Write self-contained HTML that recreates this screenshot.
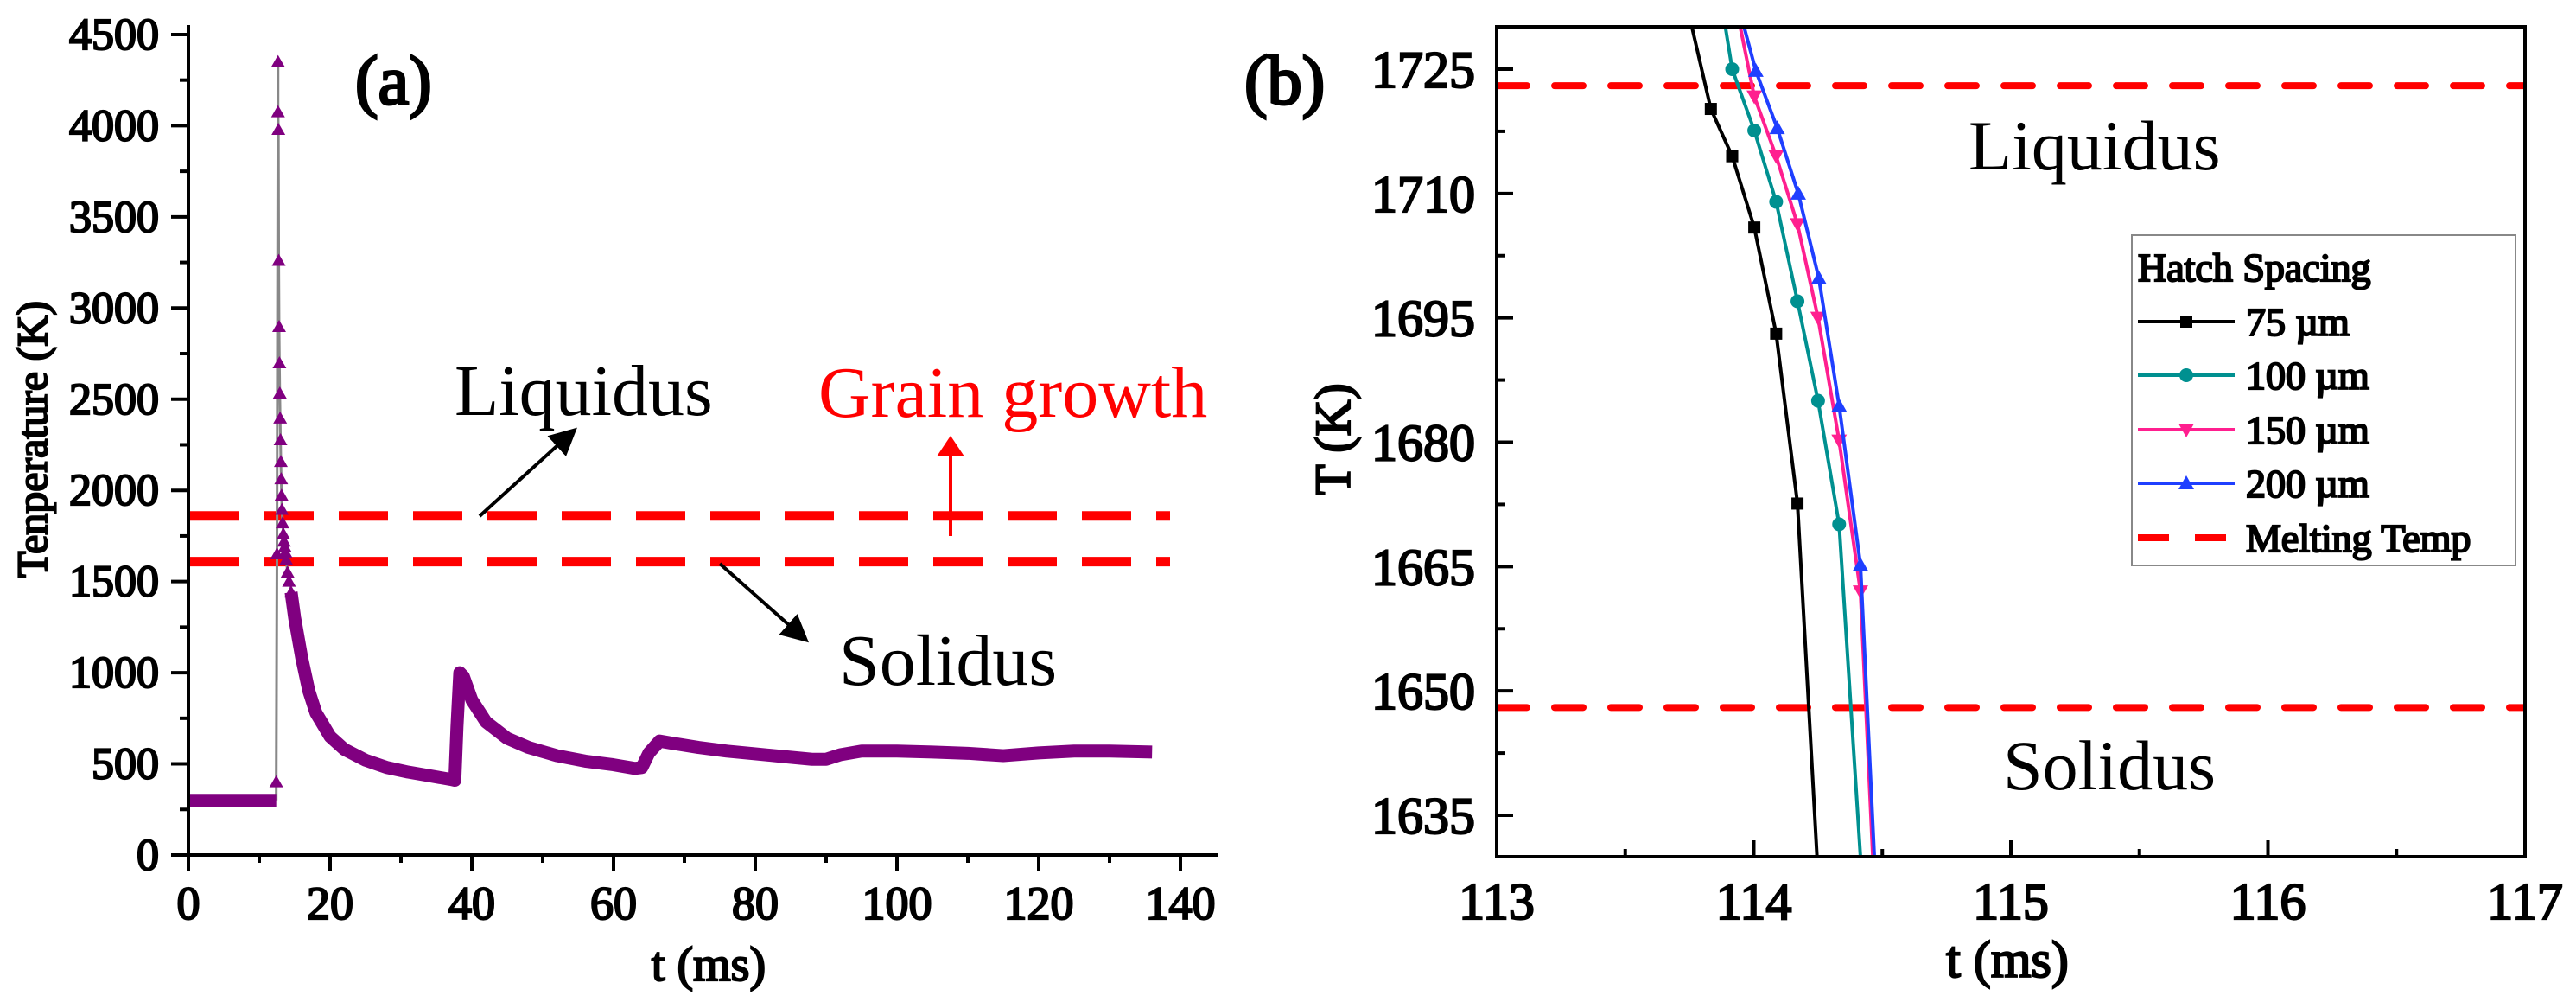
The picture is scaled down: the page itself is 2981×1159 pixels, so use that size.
<!DOCTYPE html>
<html><head><meta charset="utf-8">
<style>
html,body{margin:0;padding:0;background:#fff;}
svg, svg text{font-family:"Liberation Serif","DejaVu Serif","Times New Roman",serif !important;}
.b{font-weight:normal;stroke:#000;stroke-width:2.2px;paint-order:stroke;}
</style></head>
<body>
<svg id="fig" width="2981" height="1154" viewBox="0 0 2981 1154" xmlns="http://www.w3.org/2000/svg" font-family="Liberation Serif, DejaVu Serif, serif">
<g id="pa"></g>
<g id="pb"></g>
<text class="b" x="411" y="120" font-size="80" style="stroke-width:3px">(a)</text>
<text class="b" x="1440" y="120" font-size="80" style="stroke-width:3px">(b)</text>
<text x="526" y="480" font-size="84">Liquidus</text>
<text x="947" y="482" font-size="84" fill="#ff0000">Grain growth</text>
<text x="971" y="792" font-size="84">Solidus</text>
<text x="2278" y="196" font-size="82">Liquidus</text>
<text x="2318" y="913" font-size="82">Solidus</text>
<text class="b" x="0" y="0" font-size="50" text-anchor="middle" transform="translate(54,508) rotate(-90)">Tenperature (K)</text>
<text class="b" x="820" y="1134" font-size="56" text-anchor="middle">t (ms)</text>
<text class="b" x="0" y="0" font-size="58" text-anchor="middle" transform="translate(1562,508) rotate(-90)">T (K)</text>
<text class="b" x="2323" y="1130" font-size="60" text-anchor="middle">t (ms)</text>
<defs><marker id="ah" markerWidth="8" markerHeight="8" refX="6" refY="4" orient="auto" markerUnits="strokeWidth"><path d="M0,0 L8,4 L0,8 z" fill="#000"/></marker>
<marker id="ahr" markerWidth="6" markerHeight="8" refX="5" refY="4" orient="auto" markerUnits="strokeWidth"><path d="M0,0 L6,4 L0,8 z" fill="#ff0000"/></marker></defs>
<line x1="555" y1="597" x2="662" y2="500" stroke="#000" stroke-width="4" marker-end="url(#ah)"/>
<line x1="833" y1="652" x2="930" y2="738" stroke="#000" stroke-width="4" marker-end="url(#ah)"/>
<line x1="1100" y1="620" x2="1100" y2="508" stroke="#ff0000" stroke-width="4" marker-end="url(#ahr)"/>
</svg>
<script>
// ---------- Panel (a) data ----------
const aXTicks = [0,20,40,60,80,100,120,140];
const aYTicks = [0,500,1000,1500,2000,2500,3000,3500,4000,4500];
const aFlatTime = [0,12.4];
const aFlatTemp = [300,300];
const aSpikeTime = [12.4,12.5,12.65,12.65,12.7,12.75,12.8,12.85,12.9,12.95,13.0,13.05,13.1,13.15,13.2,13.3,13.4,13.5,13.6,13.7,13.8,14.0,14.2,14.5];
const aSpikeTemp = [400,1650,4350,4075,3978,3260,2897,2698,2532,2395,2276,2157,2062,1972,1894,1820,1760,1720,1690,1660,1620,1550,1500,1441];
const aMainTime = [14.5,15,16,17,18,20,22,25,28,31,34,37,37.6,37.9,38.3,38.8,40,42,45,48,52,56,60,63,64,65,66.5,68,72,76,80,84,88,90,92,95,100,105,110,115,120,125,130,136];
const aMainTemp = [1441,1300,1080,900,780,650,580,520,480,455,435,415,410,700,1000,980,850,730,640,590,545,515,495,475,480,560,625,615,590,570,555,540,525,525,550,570,570,565,558,545,560,570,570,565];
const aLiquidus = 1860, aSolidus = 1609;
// ---------- Panel (b) data ----------
const bXTicks = [113,114,115,116,117];
const bYTicks = [1635,1650,1665,1680,1695,1710,1725];
const bLiquidus = 1723, bSolidus = 1648;
const s75t = [113.76,113.833,113.916,114.002,114.087,114.170,114.246];
const s75v = [1730,1720.2,1714.5,1705.9,1693.1,1672.6,1630];
const s100t = [113.89,113.916,114.002,114.087,114.170,114.250,114.332,114.415];
const s100v = [1730,1725,1717.6,1709.0,1697.0,1685.0,1670.1,1630];
const s150t = [113.948,114.002,114.087,114.170,114.250,114.332,114.415,114.463];
const s150v = [1730,1721.7,1714.5,1706.3,1695.0,1680.2,1662.0,1630];
const s200t = [113.963,114.008,114.091,114.173,114.253,114.332,114.415,114.469];
const s200v = [1730,1724.8,1717.9,1710.0,1699.8,1684.4,1665.2,1630];
const legendLabels = ["75 µm","100 µm","150 µm","200 µm","Melting Temp"];

const NS="http://www.w3.org/2000/svg";
function mk(parent,tag,attrs){const e=document.createElementNS(NS,tag);for(const k in attrs)e.setAttribute(k,attrs[k]);parent.appendChild(e);return e;}

const ax = t => 218 + t*8.2;
const ay = v => 989 - v*0.2109;
const pa=document.getElementById('pa');
[aLiquidus,aSolidus].forEach((v,i)=>{
  const l=mk(pa,'line',{x1:220,x2:1354,y1:ay(v),y2:ay(v),stroke:'#ff0000','stroke-width':11,'stroke-dasharray':'57 29'});
  
  
});
let d='M'+ax(aFlatTime[1])+','+ay(aFlatTemp[1]);
aSpikeTime.forEach((t,i)=>{d+=' L'+ax(t)+','+ay(aSpikeTemp[i]);});
const sp=mk(pa,'path',{d:d,fill:'none',stroke:'#888','stroke-width':3});


let fd='M'+aFlatTime.map((t,i)=>ax(t)+','+ay(aFlatTemp[i])).join(' L');
const fl=mk(pa,'path',{d:fd,fill:'none',stroke:'#800080','stroke-width':15});


let md='M'+aMainTime.map((t,i)=>ax(t)+','+ay(aMainTemp[i])).join(' L');
const ml=mk(pa,'path',{d:md,fill:'none',stroke:'#800080','stroke-width':15,'stroke-linejoin':'round'});


aSpikeTime.forEach((t,i)=>{
  const x=ax(t),y=ay(aSpikeTemp[i]);
  const m=mk(pa,'path',{d:`M${x-8},${y+6} L${x+8},${y+6} L${x},${y-8} z`,fill:'#800080'});
  
  
});
const axl=mk(pa,'path',{d:'M218,29 L218,989 L1410,989',fill:'none',stroke:'#000','stroke-width':4});


for(let v=0;v<=4500;v+=250){const maj=v%500===0;mk(pa,'line',{x1:218,x2:maj?198:208,y1:ay(v),y2:ay(v),stroke:'#000','stroke-width':4});}
for(let t=0;t<=140;t+=10){const maj=t%20===0;mk(pa,'line',{x1:ax(t),x2:ax(t),y1:989,y2:maj?1008:998,stroke:'#000','stroke-width':4});}
aYTicks.forEach(v=>{const e=mk(pa,'text',{x:184,y:ay(v)+17,'font-size':52,'class':'b','text-anchor':'end'});e.textContent=v;
  
  });
aXTicks.forEach(t=>{const e=mk(pa,'text',{x:ax(t),y:1063,'font-size':54,'class':'b','text-anchor':'middle'});e.textContent=t;
  
  });

const bx = t => 1732 + (t-113)*297.5;
const by = v => 80 + (1725-v)*9.589;
const pb=document.getElementById('pb');
const clip=mk(pb,'clipPath',{id:'bclip'});mk(clip,'rect',{x:1732,y:31,width:1190,height:960});
[bLiquidus,bSolidus].forEach((v,i)=>{
  const l=mk(pb,'line',{x1:1734,x2:2920,y1:by(v),y2:by(v),stroke:'#ff0000','stroke-width':8,'stroke-dasharray':'33 32','stroke-linecap':'round'});
  
  
});
const series=[[s75t,s75v,'#000','sq','series-75um'],[s100t,s100v,'#009090','ci','series-100um'],[s150t,s150v,'#ff1f8f','dn','series-150um'],[s200t,s200v,'#1f3fff','up','series-200um']];
function marker(g,type,x,y,c){
  if(type==='sq')return mk(g,'rect',{x:x-7,y:y-7,width:14,height:14,fill:c});
  if(type==='ci')return mk(g,'circle',{cx:x,cy:y,r:8,fill:c});
  if(type==='dn')return mk(g,'path',{d:`M${x-9},${y-7} L${x+9},${y-7} L${x},${y+9} z`,fill:c});
  return mk(g,'path',{d:`M${x-9},${y+7} L${x+9},${y+7} L${x},${y-9} z`,fill:c});
}
series.forEach(s=>{
  const g=mk(pb,'g',{'clip-path':'url(#bclip)'});
  
  
  mk(g,'path',{d:'M'+s[0].map((t,i)=>bx(t)+','+by(s[1][i])).join(' L'),fill:'none',stroke:s[2],'stroke-width':4});
  s[0].forEach((t,i)=>{if(i>0&&i<s[0].length-1){const m=marker(g,s[3],bx(t),by(s[1][i]),s[2]);
    
    }});
});
const box=mk(pb,'rect',{x:1732,y:31,width:1190,height:960,fill:'none',stroke:'#000','stroke-width':4});


for(let v=1635;v<=1730;v+=7.5){const maj=(v-1635)%15===0;mk(pb,'line',{x1:1732,x2:maj?1751:1742,y1:by(v),y2:by(v),stroke:'#000','stroke-width':4});}
for(let t=113.5;t<117;t+=0.5){const maj=t%1===0;mk(pb,'line',{x1:bx(t),x2:bx(t),y1:991,y2:maj?972:982,stroke:'#000','stroke-width':4});}
bYTicks.forEach(v=>{const e=mk(pb,'text',{x:1707,y:by(v)+21,'font-size':60,'class':'b','text-anchor':'end'});e.textContent=v;
  
  });
bXTicks.forEach(t=>{const e=mk(pb,'text',{x:bx(t),y:1063,'font-size':60,'class':'b','text-anchor':'middle'});e.textContent=t;
  
  });
const lg=mk(pb,'g',{});


mk(lg,'rect',{x:2467,y:272,width:444,height:382,fill:'#fff',stroke:'#888','stroke-width':2});
const lt=mk(lg,'text',{x:2474,y:325,'font-size':46,'class':'b'});lt.textContent='Hatch Spacing';


const legY=[372,434,497,559,622];
legendLabels.forEach((lab,i)=>{
  const y=legY[i];
  const g=mk(lg,'g',{});
  
  
  if(i<4){mk(g,'line',{x1:2474,x2:2586,y1:y,y2:y,stroke:series[i][2],'stroke-width':4});marker(g,series[i][3],2530,y,series[i][2]);}
  else mk(g,'line',{x1:2474,x2:2586,y1:y,y2:y,stroke:'#ff0000','stroke-width':8,'stroke-dasharray':'36 30'});
  const t=mk(g,'text',{x:2599,y:y+16,'font-size':46,'class':'b'});t.textContent=lab;
});
</script>
</body></html>
